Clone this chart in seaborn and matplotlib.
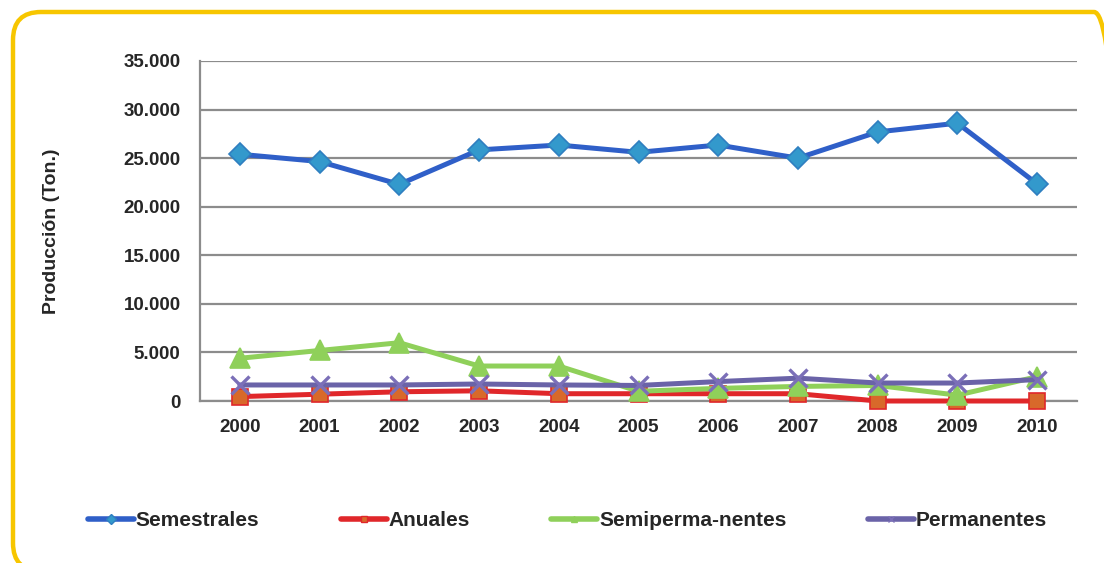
import matplotlib
matplotlib.use("Agg")
import matplotlib.pyplot as plt
import numpy as np
import pandas as pd
import seaborn as sns
from matplotlib.lines import Line2D
from matplotlib.patches import FancyBboxPatch
from matplotlib.ticker import FuncFormatter

# data (tons)
years = ["2000", "2001", "2002", "2003", "2004", "2005", "2006", "2007", "2008", "2009", "2010"]
semestrales = [25400, 24650, 22300, 25850, 26350, 25600, 26350, 25000, 27700, 28600, 22350]
anuales = [450, 700, 950, 1050, 750, 750, 750, 750, 0, 0, 0]
semipermanentes = [4400, 5200, 6000, 3600, 3600, 1000, 1300, 1500, 1600, 600, 2500]
permanentes = [1650, 1650, 1650, 1750, 1650, 1600, 2000, 2350, 1850, 1850, 2200]

series_names = ["Semestrales", "Anuales", "Semiperma-nentes", "Permanentes"]
series_values = [semestrales, anuales, semipermanentes, permanentes]

# styles: line colour, marker, marker face, marker edge, marker size
styles = {
    "Semestrales": dict(color="#2f5fc8", marker="D", mfc="#3399cc", mec="#2f7fc0", ms=11),
    "Anuales": dict(color="#e0272a", marker="s", mfc="#d8692a", mec="#e0272a", ms=12),
    "Semiperma-nentes": dict(color="#8fd05a", marker="^", mfc="#8fd05a", mec="#8fd05a", ms=14),
    "Permanentes": dict(color="#6a63a8", marker="x", mfc="#6a63a8", mec="#7b6fb8", ms=13),
}

df = pd.DataFrame({
    "pos": np.tile(np.arange(len(years)), len(series_names)),
    "year": years * len(series_names),
    "serie": np.repeat(series_names, len(years)),
    "valor": np.concatenate(series_values),
})

sns.set_theme(style="white")
plt.rcParams["font.family"] = ["Liberation Sans", "DejaVu Sans"]
plt.rcParams["font.weight"] = "bold"

fig = plt.figure(figsize=(11.04, 5.63), dpi=100)

# background axes in pixel units, only used for the yellow rounded frame
bg = fig.add_axes([0, 0, 1, 1])
bg.set_xlim(0, 1104)
bg.set_ylim(0, 563)
bg.set_axis_off()
frame = FancyBboxPatch((13, -8), 1109, 559, boxstyle="round,pad=0,rounding_size=28",
                       facecolor="none", edgecolor="#f7c600", linewidth=3.2, clip_on=False)
bg.add_patch(frame)

ax = fig.add_axes([200 / 1104, 1 - 401 / 563, 877 / 1104, 340 / 563])

for name in series_names:
    st = styles[name]
    sub = df[df["serie"] == name]
    sns.lineplot(
        data=sub, x="pos", y="valor", ax=ax, color=st["color"], linewidth=3.6,
        marker=st["marker"], markersize=st["ms"], markerfacecolor=st["mfc"],
        markeredgecolor=st["mec"], markeredgewidth=2.4 if st["marker"] == "x" else 1.2,
        legend=False, clip_on=False, zorder=3,
    )

ax.set_xlim(-0.5, len(years) - 0.5)
ax.set_ylim(0, 35000)
ax.set_yticks(np.arange(0, 35001, 5000))
ax.yaxis.set_major_formatter(FuncFormatter(lambda v, p: f"{int(v):,}".replace(",", ".")))
ax.set_xticks(np.arange(len(years)))
ax.set_xticklabels(years)
ax.set_xticks(np.arange(-0.5, len(years), 1.0), minor=True)
ax.tick_params(axis="x", which="major", length=0, pad=13, labelsize=13.5)
ax.tick_params(axis="x", which="minor", length=6, width=1.5, color="#8c8c8c")
ax.tick_params(axis="y", length=6, width=1.5, color="#8c8c8c", pad=8, labelsize=13.5)
ax.set_xlabel("")
ax.set_ylabel("Producción (Ton.)", fontsize=14, fontweight="bold")
ax.yaxis.set_label_coords(-0.16, 0.5)

ax.grid(axis="y", color="#8c8c8c", linewidth=1.6)
ax.set_axisbelow(True)
for side in ["top", "right"]:
    ax.spines[side].set_visible(False)
for side in ["left", "bottom"]:
    ax.spines[side].set_color("#8c8c8c")
    ax.spines[side].set_linewidth(1.6)
ax.set_facecolor("none")

handles = [
    Line2D([], [], color=styles[n]["color"], linewidth=4, marker=styles[n]["marker"],
           markersize=5, markerfacecolor=styles[n]["mfc"], markeredgecolor=styles[n]["mec"])
    for n in series_names
]
fig.legend(handles, series_names, loc="center", bbox_to_anchor=(0.514, 1 - 521 / 563), ncol=4,
           frameon=False, handlelength=2.2, handletextpad=0.1, columnspacing=3.9,
           prop={"size": 15, "weight": "bold"})

fig.savefig("out.png", dpi=100)
